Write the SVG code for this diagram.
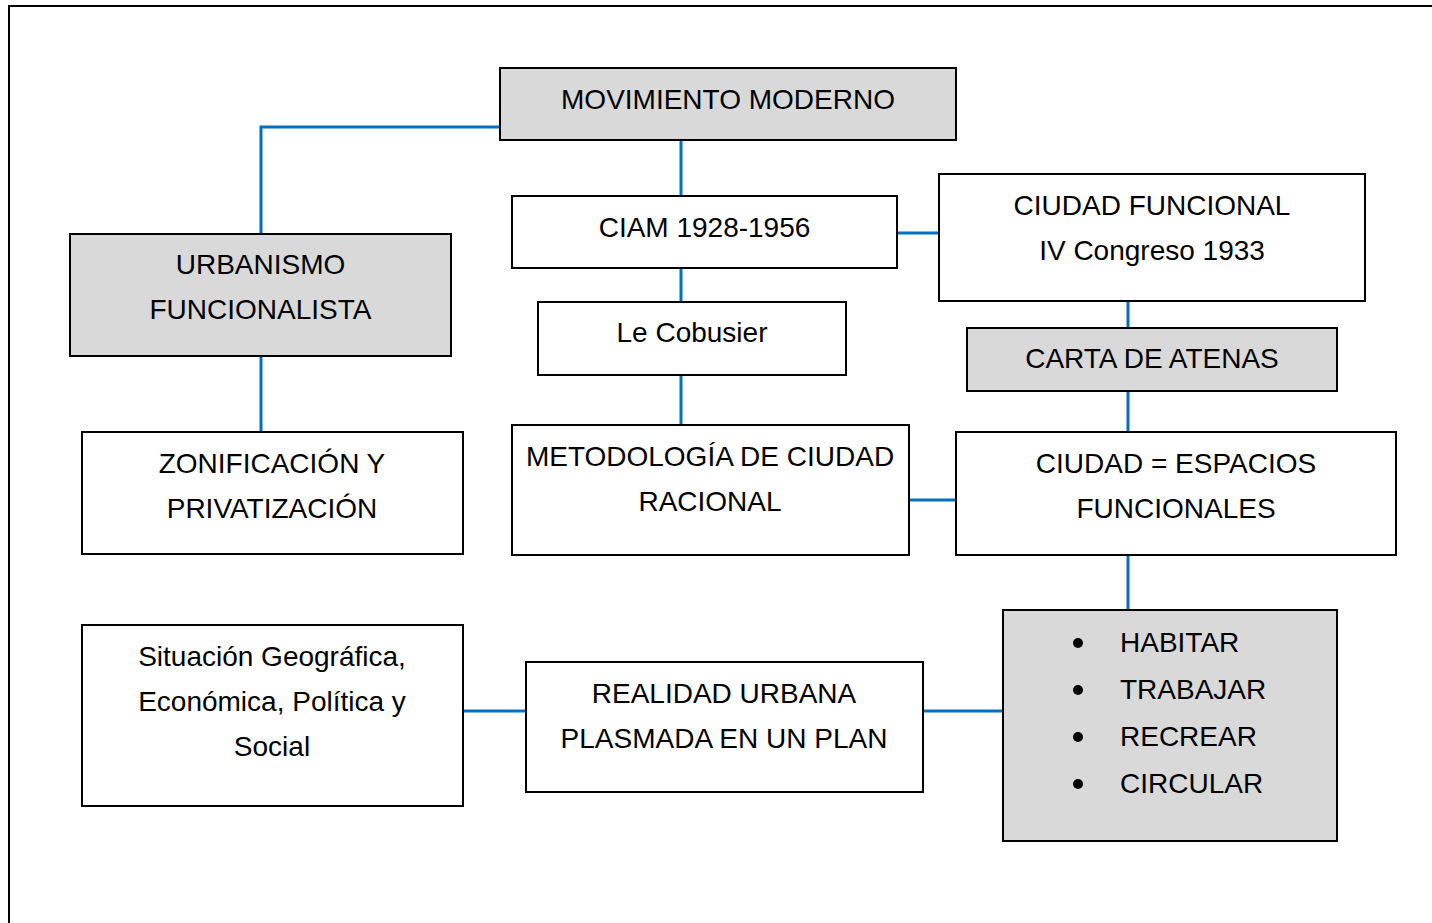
<svg xmlns="http://www.w3.org/2000/svg" width="1432" height="923" viewBox="0 0 1432 923">
<style>
.box{stroke:#000;stroke-width:2}
.w{fill:#fff}
.g{fill:#d9d9d9}
.t{font-family:"Liberation Sans",Arial,sans-serif;font-size:28px;fill:#000;text-anchor:middle}
.l{text-anchor:start}
.c{fill:none;stroke:#0070c0;stroke-width:3}
</style>
<rect x="0" y="0" width="1432" height="923" fill="#fff"/>
<rect x="9" y="6" width="1440" height="940" fill="none" stroke="#000" stroke-width="2"/>
<g id="connectors">
<polyline class="c" points="500,127 261,127 261,234"/>
<line class="c" x1="681" y1="140" x2="681" y2="196"/>
<line class="c" x1="681" y1="268" x2="681" y2="302"/>
<line class="c" x1="681" y1="375" x2="681" y2="425"/>
<line class="c" x1="897" y1="233" x2="939" y2="233"/>
<line class="c" x1="1128" y1="301" x2="1128" y2="328"/>
<line class="c" x1="1128" y1="391" x2="1128" y2="432"/>
<line class="c" x1="909" y1="500" x2="956" y2="500"/>
<line class="c" x1="1128" y1="555" x2="1128" y2="610"/>
<line class="c" x1="261" y1="356" x2="261" y2="432"/>
<line class="c" x1="463" y1="711" x2="526" y2="711"/>
<line class="c" x1="923" y1="711" x2="1003" y2="711"/>
</g>
<g id="movimiento">
<rect class="box g" x="500" y="68" width="456" height="72"/>
<text class="t" x="728" y="109">MOVIMIENTO MODERNO</text>
</g>
<g id="ciam">
<rect class="box w" x="512" y="196" width="385" height="72"/>
<text class="t" x="704.5" y="237">CIAM 1928-1956</text>
</g>
<g id="ciudad-funcional">
<rect class="box w" x="939" y="174" width="426" height="127"/>
<text class="t" x="1152" y="215">CIUDAD FUNCIONAL</text>
<text class="t" x="1152" y="260">IV Congreso 1933</text>
</g>
<g id="cobusier">
<rect class="box w" x="538" y="302" width="308" height="73"/>
<text class="t" x="692" y="342">Le Cobusier</text>
</g>
<g id="carta">
<rect class="box g" x="967" y="328" width="370" height="63"/>
<text class="t" x="1152" y="368">CARTA DE ATENAS</text>
</g>
<g id="urbanismo">
<rect class="box g" x="70" y="234" width="381" height="122"/>
<text class="t" x="260.5" y="274">URBANISMO</text>
<text class="t" x="260.5" y="319">FUNCIONALISTA</text>
</g>
<g id="zonificacion">
<rect class="box w" x="82" y="432" width="381" height="122"/>
<text class="t" x="272" y="473">ZONIFICACIÓN Y</text>
<text class="t" x="272" y="518">PRIVATIZACIÓN</text>
</g>
<g id="metodologia">
<rect class="box w" x="512" y="425" width="397" height="130"/>
<text class="t" x="710" y="466">METODOLOGÍA DE CIUDAD</text>
<text class="t" x="710" y="511">RACIONAL</text>
</g>
<g id="espacios">
<rect class="box w" x="956" y="432" width="440" height="123"/>
<text class="t" x="1176" y="473">CIUDAD = ESPACIOS</text>
<text class="t" x="1176" y="518">FUNCIONALES</text>
</g>
<g id="situacion">
<rect class="box w" x="82" y="625" width="381" height="181"/>
<text class="t" x="272" y="666">Situación Geográfica,</text>
<text class="t" x="272" y="711">Económica, Política y</text>
<text class="t" x="272" y="756">Social</text>
</g>
<g id="realidad">
<rect class="box w" x="526" y="662" width="397" height="130"/>
<text class="t" x="724" y="703">REALIDAD URBANA</text>
<text class="t" x="724" y="748">PLASMADA EN UN PLAN</text>
</g>
<g id="funciones">
<rect class="box g" x="1003" y="610" width="334" height="231"/>
<circle cx="1078" cy="643" r="5"/>
<circle cx="1078" cy="690" r="5"/>
<circle cx="1078" cy="737" r="5"/>
<circle cx="1078" cy="784" r="5"/>
<text class="t l" x="1120" y="652">HABITAR</text>
<text class="t l" x="1120" y="699">TRABAJAR</text>
<text class="t l" x="1120" y="746">RECREAR</text>
<text class="t l" x="1120" y="793">CIRCULAR</text>
</g>
</svg>
